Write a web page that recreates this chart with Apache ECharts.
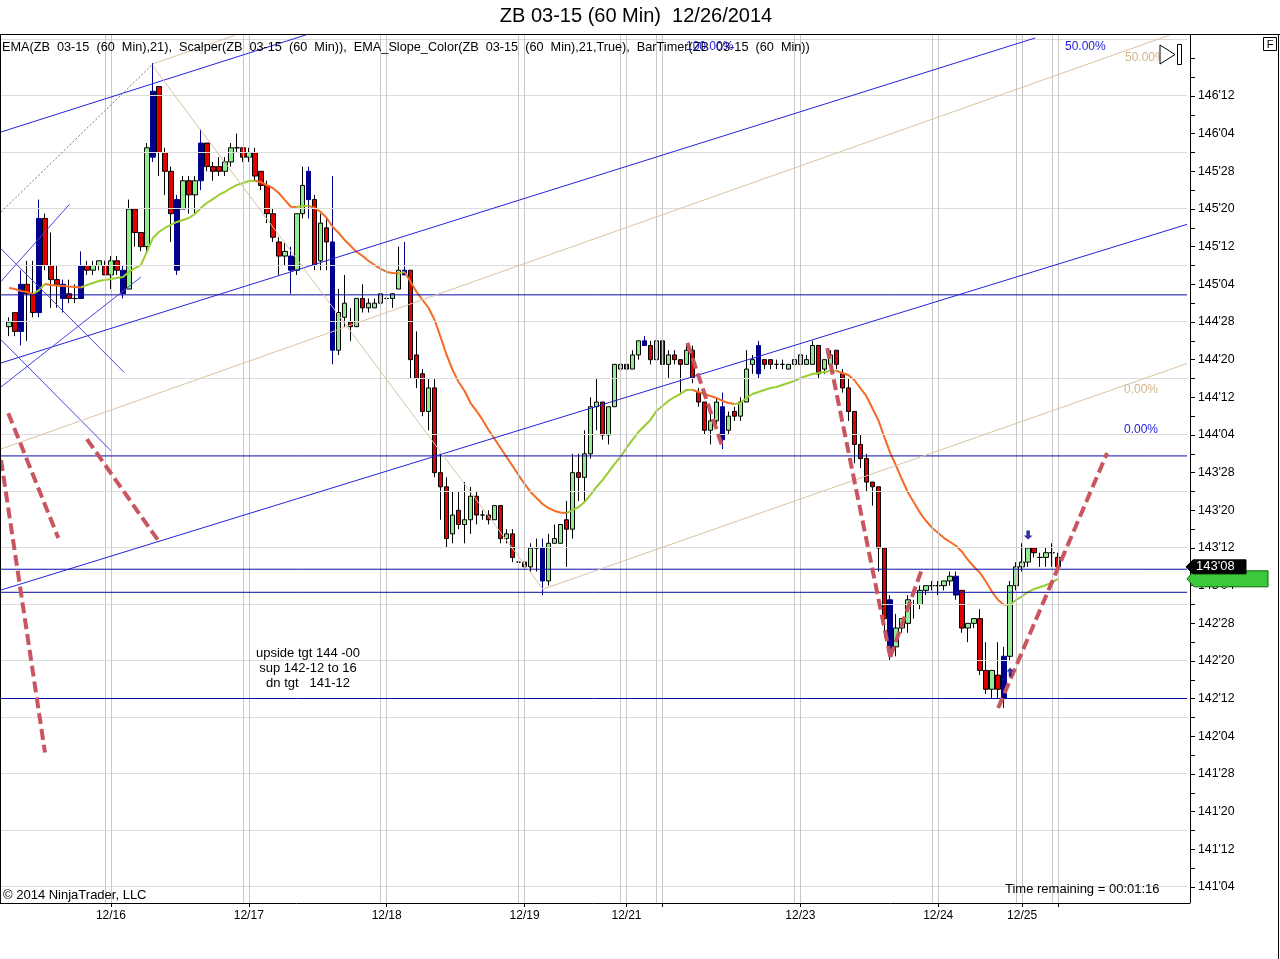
<!DOCTYPE html>
<html><head><meta charset="utf-8">
<script src="https://cdn.jsdelivr.net/npm/echarts@6/dist/echarts.min.js"></script>
<style>html,body{margin:0;padding:0;background:#fff}#c{width:1280px;height:959px}</style>
</head><body><div id="c"></div>
<script>
// ---- bar data (60 min bars, quotes in 32nds) ----
const opens = ["144'27","144'30","144'26","145'04","145'02","144'30","145'18","145'08","145'05","145'04",
"145'02","145'01","145'01","145'08","145'07","145'08","145'08","145'06","145'09","145'07",
"145'03","145'20","145'15","145'12","145'31","146'14","146'00","145'28","145'22","145'20",
"145'26","145'23","145'26","146'02","145'29","145'29","145'28","145'30","146'01","146'01",
"145'31","146'00","145'28","145'25","145'19","145'13","145'10","145'10","145'07","145'19",
"145'28","145'22","145'09","145'16","145'13","144'22","144'29","144'28","144'27","145'01",
"144'31","144'31","145'00","145'01","145'01","145'03","145'06","145'07","144'21","144'17",
"144'09","144'14","143'28","143'25","143'15","143'20","143'17","143'18","143'23","143'19",
"143'19","143'18","143'21","143'14","143'15","143'09","143'09","143'08","143'12","143'12",
"143'05","143'13","143'13","143'18","143'16","143'28","143'27","144'00","144'10","144'11",
"144'04","144'10","144'18","144'19","144'18","144'21","144'24","144'23","144'20","144'24",
"144'19","144'21","144'20","144'19","144'22","144'13","144'11","144'05","144'07","144'10",
"144'05","144'09","144'08","144'11","144'19","144'17","144'20","144'20","144'19","144'19",
"144'18","144'19","144'19","144'19","144'19","144'23","144'18","144'19","144'22","144'17",
"144'14","144'09","144'02","143'31","143'26","143'25","143'12","143'01","142'23","142'27",
"142'28","143'00","143'00","143'03","143'04","143'04","143'04","143'05","143'06","143'03",
"142'27","142'28","142'29","142'18","142'14","142'17","142'12","142'21","143'04","143'08",
"143'09","143'12","143'10","143'10","143'11","143'10"];
const highs = ["144'29","144'30","145'07","145'09","145'09","145'22","145'19","145'15","145'08","145'05",
"145'05","145'04","145'11","145'09","145'09","145'09","145'09","145'10","145'10","145'08",
"145'22","145'20","145'15","146'02","146'19","146'14","146'01","145'29","145'23","145'27",
"145'27","145'27","146'05","146'02","145'30","145'31","145'31","146'02","146'04","146'01",
"146'01","146'01","145'28","145'26","145'20","145'14","145'13","145'12","145'19","145'29",
"145'29","145'23","145'19","145'18","145'27","145'03","145'06","144'31","145'01","145'04",
"145'01","145'01","145'02","145'03","145'02","145'12","145'13","145'07","144'26","144'18",
"144'16","144'16","144'00","143'27","143'24","143'24","143'26","143'25","143'24","143'20",
"143'20","143'21","143'21","143'16","143'16","143'10","143'09","143'13","143'14","143'14",
"143'15","143'17","143'17","143'22","144'00","144'00","144'05","144'12","144'16","144'11",
"144'10","144'19","144'23","144'20","144'22","144'24","144'25","144'24","144'25","144'24",
"144'22","144'22","144'20","144'23","144'23","144'14","144'11","144'10","144'12","144'13",
"144'09","144'10","144'12","144'22","144'21","144'24","144'20","144'20","144'20","144'20",
"144'19","144'21","144'21","144'21","144'24","144'23","144'20","144'22","144'22","144'18",
"144'16","144'09","144'04","144'00","143'26","143'25","143'12","143'02","142'30","142'29",
"143'02","143'01","143'04","143'04","143'05","143'05","143'05","143'07","143'07","143'03",
"142'28","142'29","142'31","142'24","142'18","142'24","142'23","143'05","143'09","143'13",
"143'12","143'12","143'11","143'12","143'13","143'11"];
const lows = ["144'25","144'25","144'23","144'24","144'29","144'29","145'07","144'31","144'31","144'30",
"145'00","145'00","145'01","145'06","145'06","145'07","145'06","145'03","145'06","145'01",
"145'03","145'12","145'11","145'11","145'30","145'27","145'23","145'13","145'06","145'20",
"145'19","145'19","145'24","145'28","145'26","145'27","145'27","145'29","146'00","145'30",
"145'30","145'26","145'24","145'17","145'13","145'06","145'08","145'02","145'06","145'18",
"145'18","145'07","145'07","145'07","144'19","144'21","144'27","144'24","144'27","144'30",
"144'30","144'31","144'31","144'31","144'31","145'03","145'06","144'16","144'14","144'08",
"144'05","143'27","143'18","143'12","143'13","143'16","143'13","143'15","143'17","143'18",
"143'17","143'18","143'13","143'13","143'09","143'08","143'07","143'07","143'07","143'02",
"143'04","143'13","143'13","143'08","143'14","143'22","143'22","143'31","144'05","144'03",
"144'02","144'10","144'17","144'16","144'18","144'20","144'23","144'19","144'20","144'19",
"144'16","144'19","144'13","144'19","144'15","144'10","144'04","144'02","144'06","144'01",
"144'04","144'07","144'07","144'11","144'17","144'16","144'18","144'18","144'18","144'18",
"144'18","144'19","144'19","144'19","144'19","144'16","144'17","144'18","144'18","144'13",
"144'07","143'30","143'29","143'24","143'21","143'07","142'25","142'20","142'21","142'26",
"142'26","142'29","142'31","143'02","143'03","143'02","143'03","143'04","143'01","142'26",
"142'24","142'27","142'17","142'13","142'12","142'12","142'10","142'20","143'03","143'07",
"143'08","143'10","143'08","143'08","143'08","143'08"];
const closes = ["144'28","144'26","145'04","145'02","144'30","145'18","145'08","145'05","145'04","145'01",
"145'01","145'01","145'08","145'07","145'08","145'09","145'06","145'09","145'07","145'02",
"145'20","145'15","145'12","146'01","146'13","146'00","145'28","145'19","145'07","145'26",
"145'23","145'26","146'02","145'29","145'28","145'28","145'30","146'01","146'01","145'31",
"146'00","145'27","145'25","145'19","145'14","145'10","145'11","145'07","145'19","145'25",
"145'22","145'08","145'17","145'13","144'22","144'30","145'00","144'27","145'01","144'31",
"145'00","145'00","145'02","145'01","145'02","145'07","145'07","144'20","144'16","144'09",
"144'14","143'28","143'25","143'14","143'19","143'17","143'18","143'23","143'19","143'19",
"143'18","143'21","143'14","143'15","143'10","143'09","143'08","143'12","143'12","143'05",
"143'13","143'14","143'17","143'16","143'28","143'27","144'00","144'10","144'11","144'04",
"144'10","144'19","144'19","144'18","144'21","144'24","144'23","144'20","144'24","144'19",
"144'21","144'20","144'19","144'22","144'16","144'11","144'05","144'07","144'11","144'03",
"144'08","144'08","144'11","144'18","144'20","144'23","144'19","144'19","144'19","144'19",
"144'19","144'20","144'21","144'20","144'23","144'17","144'20","144'21","144'19","144'14",
"144'09","144'02","143'31","143'26","143'25","143'12","142'29","142'22","142'27","142'29",
"143'01","143'00","143'03","143'04","143'04","143'04","143'05","143'06","143'02","142'27",
"142'28","142'29","142'18","142'14","142'18","142'14","142'21","143'04","143'08","143'09",
"143'12","143'11","143'10","143'11","143'11","143'08"];
// bars painted blue by the Scalper indicator
const scalperBars = [2,5,9,12,19,24,28,32,47,50,54,66,89,106,119,125,147,158,166];
// EMA(21)
const ema21 = [145.100,145.094,145.081,145.074,145.061,145.087,145.127,145.121,145.117,145.114,
145.110,145.107,145.104,145.121,145.134,145.147,145.154,145.160,145.167,145.174,
145.207,145.233,145.253,145.340,145.432,145.472,145.499,145.519,145.539,145.552,
145.565,145.592,145.632,145.665,145.691,145.718,145.738,145.764,145.784,145.797,
145.811,145.812,145.804,145.784,145.764,145.731,145.685,145.640,145.638,145.645,
145.646,145.632,145.605,145.565,145.505,145.466,145.419,145.379,145.340,145.313,
145.280,145.253,145.227,145.207,145.200,145.199,145.207,145.140,145.074,145.021,
144.968,144.888,144.775,144.656,144.556,144.477,144.417,144.337,144.284,144.225,
144.158,144.098,144.039,143.979,143.919,143.859,143.800,143.747,143.707,143.667,
143.640,143.621,143.610,143.607,143.627,143.647,143.680,143.727,143.780,143.826,
143.879,143.932,143.979,144.039,144.092,144.145,144.185,144.225,144.284,144.317,
144.351,144.377,144.397,144.424,144.425,144.410,144.397,144.384,144.371,144.351,
144.337,144.331,144.337,144.371,144.397,144.410,144.424,144.437,144.444,144.457,
144.470,144.483,144.503,144.517,144.530,144.536,144.543,144.550,144.551,144.536,
144.523,144.490,144.437,144.384,144.304,144.225,144.112,144.005,143.919,143.826,
143.740,143.674,143.607,143.554,143.508,143.474,143.441,143.415,143.388,143.348,
143.295,143.249,143.209,143.149,143.083,143.030,142.997,142.998,143.030,143.056,
143.083,143.103,143.116,143.129,143.149,143.17027];
// Scalper signal arrows: [bar, price]
const sellSignals = [[170, 143.461]];
const buySignals = [[167, 142.552]];
// x-axis: bars where a session/date starts, and the date labels
const dateBars = [17, 40, 63, 86, 103, 109, 132, 155, 169, 175];
const dateText = ['12/16', '12/17', '12/18', '12/19', '12/21', '', '12/23', '12/24', '12/25', ''];
// price axis labels and gridlines
const priceLabels = ["141'04","141'12","141'20","141'28","142'04","142'12","142'20","142'28","143'04","143'12","143'20","143'28",
"144'04","144'12","144'20","144'28","145'04","145'12","145'20","145'28","146'04","146'12"];
const priceTicks = ["141'04","141'08","141'12","141'16","141'20","141'24","141'28","142'00","142'04","142'08","142'12","142'16",
"142'20","142'24","142'28","143'00","143'04","143'08","143'12","143'16","143'20","143'24","143'28","144'00","144'04","144'08",
"144'12","144'16","144'20","144'24","144'28","145'00","145'04","145'08","145'12","145'16","145'20","145'24","145'28","146'00",
"146'04","146'08","146'12","146'16","146'20"];
const gridPrices = ["141'04","141'16","141'28","142'08","142'20","143'00","143'12","143'24","144'04","144'16","144'28",
"145'08","145'20","146'00","146'12","146'24"];
// drawing objects: [[bar, price], [bar, price]]
const hLevels = [145.055, 143.986, 143.234, 143.081, 142.376];
const blueChannel = [[[-1.33, 146.136], [49.5, 146.780]], [[-1.33, 144.603], [171.17, 146.760]], [[-1.33, 143.096], [196.5, 145.523]]];
const tanChannel = [[[24, 146.587], [37.8, 146.780]], [[-1.33, 144.032], [193.67, 146.780]], [[89.17, 143.103], [196.5, 144.599]], [[24, 146.574], [89.17, 143.096]]];
const tanConnector = [[-1.33, 145.605], [24, 146.587]];
const leftBlue = [[[-1.33, 145.361], [19.22, 144.540]], [[-1.33, 145.144], [10.05, 145.655]], [[-1.33, 144.757], [17, 144.021]], [[-1.33, 144.444], [22, 145.173]]];
const redDashed = [[[-0.12, 144.270], [8.22, 143.442]], [[-1.33, 143.959], [6, 142.018]], [[13, 144.098], [24.88, 143.425]],
  [[113.17, 144.736], [119, 144.045]], [[136.5, 144.702], [147, 142.654]], [[147, 142.651], [152.33, 143.240]], [[165, 142.313], [183.17, 144.005]]];
const noteLines = ['upside tgt 144 -00', 'sup 142-12 to 16', 'dn tgt   141-12'];

// ---- helpers ----
const quote = q => { const p = q.split("'"); return Number(p[0]) + Number(p[1]) / 32; };
const fmt32 = v => { let h = Math.floor(v + 1e-9); let f = Math.round((v - h) * 32); if (f === 32) { h++; f = 0; } return h + "'" + String(f).padStart(2, '0'); };
const FONT = '"Liberation Sans", Arial, sans-serif';
const SLOTS = 198;            // category slots across the plot
const X = j => j + 1;          // bar index -> slot index
const yMin = 141.0188, yMax = 146.7798;

const candleData = [['-', '-', '-', '-']];
opens.forEach((o, j) => {
  const item = { value: [quote(o), quote(closes[j]), quote(lows[j]), quote(highs[j])] };
  if (scalperBars.includes(j)) item.itemStyle = { color: '#00008b', color0: '#00008b', borderColor: '#00008b', borderColor0: '#00008b', borderColorDoji: '#00008b' };
  candleData.push(item);
});
const slots = Array.from({ length: SLOTS }, (_, i) => String(i));

const series = [];
// gridlines
series.push({
  type: 'line', xAxisIndex: 1, yAxisIndex: 0, data: [[X(0), quote(closes[0])]], symbol: 'none', lineStyle: { opacity: 0 }, silent: true, z: 1,
  markLine: {
    silent: true, symbol: ['none', 'none'], label: { show: false }, animation: false,
    data: [
      ...gridPrices.map(p => ({ yAxis: quote(p), lineStyle: { color: '#dcdcdc', width: 1, type: 'solid' } })),
      ...dateBars.flatMap(j => [X(j - 1), X(j)]).map(x => ({ xAxis: x, lineStyle: { color: '#c8c8c8', width: 1, type: 'solid' } }))
    ]
  }
});
series.push({
  type: 'candlestick', xAxisIndex: 0, yAxisIndex: 0, barWidth: 5, z: 3, data: candleData,
  itemStyle: { color: '#90ee90', color0: '#e00000', borderColor: '#000', borderColor0: '#000', borderColorDoji: '#000', borderWidth: 1 }
});
// EMA with slope colouring
const dirs = [];
for (let i = 1; i < ema21.length; i++) {
  const d = ema21[i] - ema21[i - 1];
  dirs.push(d > 0 ? true : d < 0 ? false : (dirs.length ? dirs[dirs.length - 1] : false));
}
const runs = []; let cur = { up: dirs[0], from: 0, to: 1 };
for (let k = 1; k < dirs.length; k++) {
  if (dirs[k] === cur.up) cur.to = k + 1; else { runs.push(cur); cur = { up: dirs[k], from: k, to: k + 1 }; }
}
runs.push(cur);
runs.forEach(r => series.push({
  type: 'line', xAxisIndex: 1, yAxisIndex: 0, symbol: 'none', silent: true, z: 4,
  lineStyle: { color: r.up ? '#9acd32' : '#f56a24', width: 2 },
  data: ema21.slice(r.from, r.to + 1).map((v, k) => [X(r.from + k), v])
}));
const seg = (pts, style, z) => series.push({ type: 'line', xAxisIndex: 1, yAxisIndex: 0, symbol: 'none', silent: true, z: z || 5, clip: true,
  lineStyle: style, data: pts.map(p => [X(p[0]), p[1]]) });
hLevels.forEach(p => seg([[-1.5, p], [SLOTS - 1.5, p]], { color: '#0a0aa6', width: 1 }));
blueChannel.forEach(l => seg(l, { color: '#2222dd', width: 1 }));
leftBlue.forEach(l => seg(l, { color: '#4646e0', width: 1 }));
tanChannel.forEach(l => seg(l, { color: '#dcc2a4', width: 1 }));
seg(tanConnector, { color: '#777', width: 1, type: [2, 2] });
redDashed.forEach(l => seg(l, { color: '#c95560', width: 4, type: [11, 5], cap: 'butt' }, 6));
series.push({ type: 'scatter', xAxisIndex: 1, yAxisIndex: 0, z: 7, silent: true, symbol: 'path://M3,0L7,0L7,6L10,6L5,11L0,6L3,6Z', symbolSize: [9, 9],
  itemStyle: { color: '#00008b' }, data: sellSignals.map(s => [X(s[0]), s[1]]) });
series.push({ type: 'scatter', xAxisIndex: 1, yAxisIndex: 0, z: 7, silent: true, symbol: 'path://M5,0L10,5L7,5L7,11L3,11L3,5L0,5Z', symbolSize: [7, 9],
  itemStyle: { color: '#00008b' }, data: buySignals.map(s => [X(s[0]), s[1]]) });

const txt = (text, x, y, opt) => Object.assign({ type: 'text', x, y, silent: true, z: 20,
  style: Object.assign({ text, fill: '#000', font: '13px ' + FONT, align: 'left', verticalAlign: 'middle' }, opt || {}) });
const graphic = [
  { type: 'line', silent: true, z: 20, shape: { x1: 0, y1: 34.5, x2: 1280, y2: 34.5 }, style: { stroke: '#000', lineWidth: 1 } },
  { type: 'line', silent: true, z: 20, shape: { x1: 0.5, y1: 35, x2: 0.5, y2: 903 }, style: { stroke: '#000', lineWidth: 1 } },
  { type: 'line', silent: true, z: 20, shape: { x1: 1187, y1: 903.5, x2: 1190, y2: 903.5 }, style: { stroke: '#000', lineWidth: 1 } },
  { type: 'line', silent: true, z: 20, shape: { x1: 1278.5, y1: 35, x2: 1278.5, y2: 959 }, style: { stroke: '#000', lineWidth: 1 } },
  txt('ZB 03-15 (60 Min)  12/26/2014', 636, 16, { font: '20px ' + FONT, align: 'center' }),
  txt('EMA(ZB  03-15  (60  Min),21),  Scalper(ZB  03-15  (60  Min)),  EMA_Slope_Color(ZB  03-15  (60  Min),21,True),  BarTimer(ZB  03-15  (60  Min))', 2, 47, { font: '12.7px ' + FONT }),
  txt('100.00%', 686, 47, { fill: '#1c1cd8', font: '12px ' + FONT }),
  txt('50.00%', 1065, 47, { fill: '#1c1cd8', font: '12px ' + FONT }),
  txt('50.00%', 1125, 58, { fill: '#d2b48c', font: '12px ' + FONT }),
  txt('0.00%', 1124, 390, { fill: '#d2b48c', font: '12px ' + FONT }),
  txt('0.00%', 1124, 430, { fill: '#1c1cd8', font: '12px ' + FONT }),
  txt('\u00a9 2014 NinjaTrader, LLC', 3, 895),
  txt('Time remaining = 00:01:16', 1005, 889),
  ...noteLines.map((t, i) => txt(t, 308, 653 + i * 15.3, { align: 'center' })),
  { type: 'polygon', silent: true, z: 20, shape: { points: [[1160, 45], [1160, 64], [1175, 54.5]] }, style: { fill: '#fff', stroke: '#000', lineWidth: 1 } },
  { type: 'rect', silent: true, z: 20, shape: { x: 1177.5, y: 44.5, width: 4, height: 20 }, style: { fill: '#fff', stroke: '#000', lineWidth: 1 } },
  { type: 'rect', silent: true, z: 20, shape: { x: 1263.5, y: 37.5, width: 13, height: 13 }, style: { fill: '#fff', stroke: '#000', lineWidth: 1 } },
  txt('F', 1270, 44.5, { align: 'center', font: '11px ' + FONT })
];

const option = {
  animation: false,
  backgroundColor: '#fff',
  grid: { left: -1, top: 35, width: 1188, height: 868, containLabel: false },
  xAxis: [
    { type: 'category', data: slots, boundaryGap: true, show: false },
    { type: 'value', min: -0.5, max: SLOTS - 0.5, position: 'bottom',
      axisLine: { show: true, onZero: false, lineStyle: { color: '#000', width: 1 } },
      axisTick: { show: true, length: 4, lineStyle: { color: '#000' }, customValues: dateBars.map(X) },
      axisLabel: { customValues: dateBars.filter((j, k) => dateText[k]).map(X), formatter: v => dateText[dateBars.indexOf(v - 1)] || '',
        color: '#000', fontSize: 12, fontFamily: FONT, margin: 7 },
      splitLine: { show: false } }
  ],
  yAxis: [{ type: 'value', position: 'right', offset: 3, min: yMin, max: yMax,
    axisLine: { show: true, onZero: false, lineStyle: { color: '#000', width: 1 } },
    axisTick: { show: true, length: 5, lineStyle: { color: '#000' }, customValues: priceTicks.map(quote) },
    axisLabel: { customValues: priceLabels.map(quote), formatter: fmt32, color: '#000', fontSize: 12.3, fontFamily: FONT, margin: 8 },
    splitLine: { show: false } }],
  series,
  graphic
};
const chart = echarts.init(document.getElementById('c'));
chart.setOption(option);
// last price and EMA value markers on the price axis
const lastClose = quote(closes[closes.length - 1]);
const lastEma = ema21[ema21.length - 1];
const yc = chart.convertToPixel({ yAxisIndex: 0 }, lastClose);
const ye = chart.convertToPixel({ yAxisIndex: 0 }, lastEma);
chart.setOption({ graphic: graphic.concat([
  { type: 'polygon', silent: true, z: 21, shape: { points: [[1187, ye], [1194, ye - 8], [1268, ye - 8], [1268, ye + 8], [1194, ye + 8]] }, style: { fill: '#3bc83b', stroke: '#0a6a0a', lineWidth: 1 } },
  txt(lastEma.toFixed(5), 1196, ye + 1, { fill: '#0b3a0b', font: '13px ' + FONT, z: 22 }),
  { type: 'polygon', silent: true, z: 23, shape: { points: [[1186, yc], [1193, yc - 7], [1246, yc - 7], [1246, yc + 7], [1193, yc + 7]] }, style: { fill: '#000', stroke: '#000', lineWidth: 1 } },
  Object.assign(txt(fmt32(lastClose), 1196, yc, { fill: '#fff', font: '13px ' + FONT }), { z: 24 })
]) });
</script></body></html>
